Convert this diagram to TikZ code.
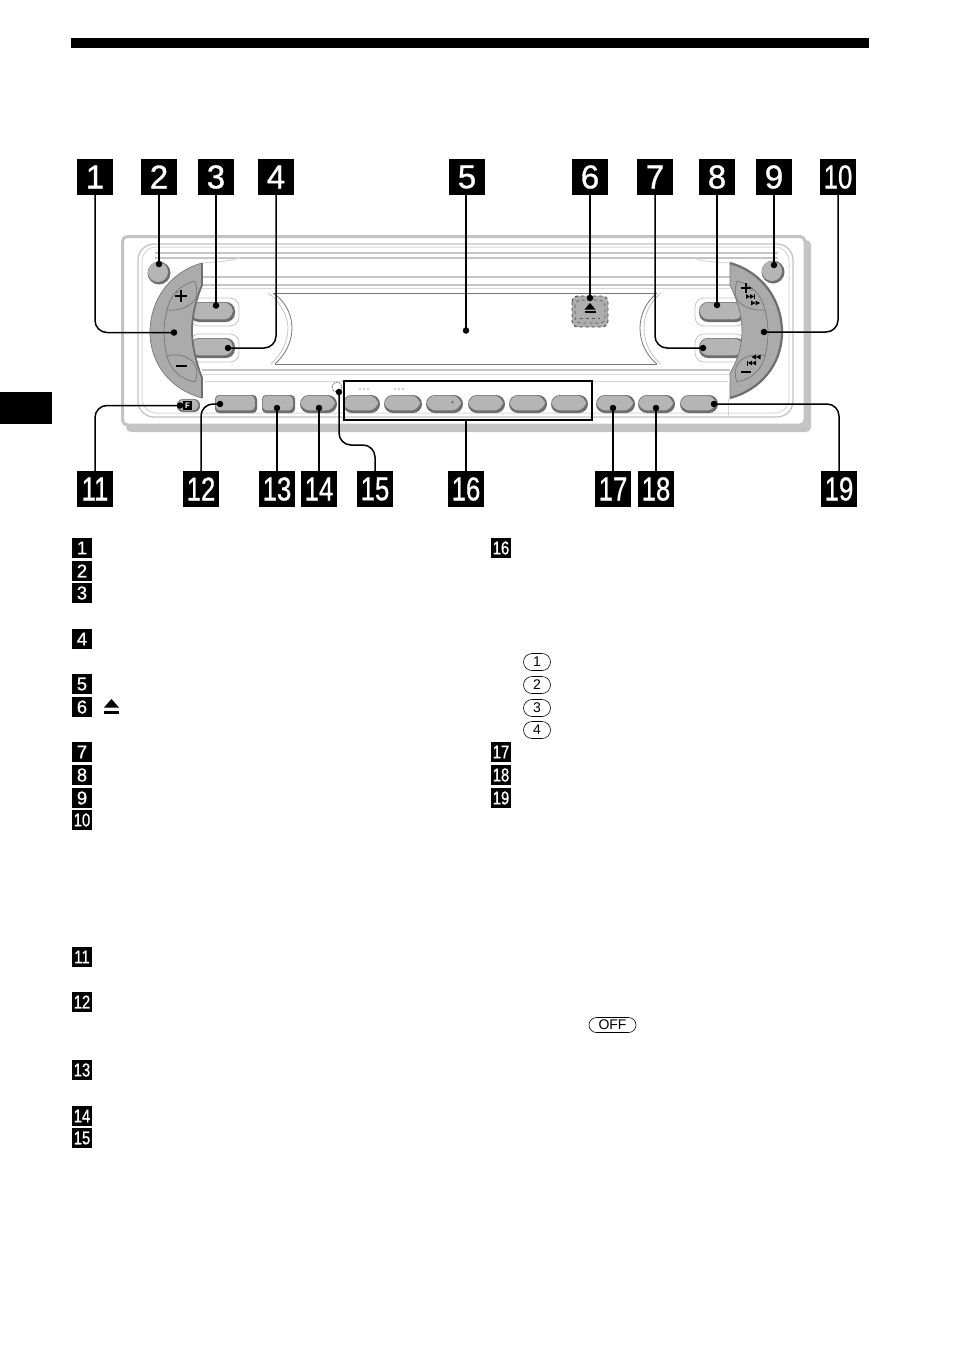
\documentclass[tikz,border=0pt]{standalone}
\usepackage{fontspec}
\usepackage{graphicx}
\setmainfont{Liberation Sans}
\newfontfamily\labfont[FakeBold=1]{Liberation Sans}
\usetikzlibrary{shapes.misc}
\definecolor{panel}{HTML}{ABABAB}
\definecolor{btnfill}{HTML}{B5B5B5}
\definecolor{btnedge}{HTML}{6E6E6E}
\definecolor{linea}{HTML}{C4C4C4}
\definecolor{lineb}{HTML}{D8D8D8}
\definecolor{lined}{HTML}{777777}
\tikzset{
  biglab/.style={fill=black,text=white,minimum size=36pt,inner sep=0pt,font=\labfont\fontsize{33}{33}\selectfont},
  smalllab/.style={fill=black,text=white,minimum size=20pt,inner sep=0pt,font=\labfont\fontsize{18.5}{18.5}\selectfont},
  pin/.style={circle,fill=black,minimum size=6.5pt,inner sep=0pt},
  lead/.style={draw=black,line width=1.5pt,rounded corners=12pt},
  pilllab/.style={draw=black,line width=.6pt,rounded rectangle,inner sep=0pt,minimum width=27pt,minimum height=17pt,font=\fontsize{14}{14}\selectfont},
  faint/.style={draw=linea,line width=1.3pt},
  faintthin/.style={draw=lineb,line width=1pt},
}
\newcommand{\btn}[5][9]{%
  \fill[btnedge,rounded corners=#1pt] (#2,#3) rectangle (#4,#5);
  \fill[btnfill,rounded corners=#1pt] (#2+.6,#3+.6) rectangle (#4-2.2,#5-2.6);
}
\newcommand{\rtri}[3]{\fill[black] (#1,#2-2.4) -- (#1+#3,#2) -- (#1,#2+2.4) -- cycle;}
\newcommand{\ltri}[3]{\fill[black] (#1,#2-2.4) -- (#1-#3,#2) -- (#1,#2+2.4) -- cycle;}
\begin{document}
\begin{tikzpicture}[x=1pt,y=-1pt]
\useasboundingbox (0,0) rectangle (954,1352);
% page furniture
\fill[black] (71,38) rectangle (869,48);
\fill[black] (0,392) rectangle (52,424);
% device body
\fill[linea,rounded corners=5pt] (126,240) rectangle (811,432);
\fill[white,rounded corners=4pt] (122.5,237) rectangle (805,425);
\draw[linea,line width=3pt,rounded corners=5pt] (122.5,236.5) rectangle (805,425);
\draw[faint,rounded corners=16pt] (138,244) rectangle (793,417);
\draw[faintthin,rounded corners=14pt] (142,247) rectangle (789,413);
\foreach \yy in {253,258}{\draw[faint] (155,\yy) -- (778,\yy);}
\draw[faintthin] (202,263) .. controls (215,262) and (225,262) .. (240,258);
\draw[faintthin] (730,263) .. controls (715,262) and (705,262) .. (693,258);
\draw[faint] (202,277) -- (730,277);
\draw[faint] (202,285) -- (730,285);
\draw[faintthin] (202,288) -- (730,288);
\draw[lined,line width=1pt] (273,293) -- (657,293);
\draw[lined,line width=1pt] (275,364) -- (657,364);
\draw[faint] (202,370) -- (730,370);
\draw[faintthin] (202,374) -- (730,374);
\draw[faintthin] (205,381) -- (345,381);
\draw[faintthin] (592,381) -- (728,381);
\draw[lineb,line width=.8pt] (728,398) -- (728,416);
% display arcs
\draw[lined,line width=.8pt] (273,293) .. controls (288,303) and (292,318) .. (292,328) .. controls (292,342) and (285,355) .. (275,364);
\draw[linea,line width=.8pt] (268,293) .. controls (282,303) and (288,318) .. (288,328) .. controls (288,342) and (281,355) .. (271,364);
\draw[lined,line width=.8pt] (657,293) .. controls (645,303) and (640,316) .. (640,328) .. controls (640,342) and (646,355) .. (657,364);
\draw[linea,line width=.8pt] (661,293) .. controls (649,303) and (644,316) .. (644,328) .. controls (644,342) and (650,355) .. (661,364);
% side button halos and buttons
\draw[linea,line width=.8pt,rounded corners=9pt] (190,298) rectangle (239,326);
\draw[linea,line width=.8pt,rounded corners=9pt] (190,334) rectangle (239,362);
\draw[linea,line width=.8pt,rounded corners=9pt] (695,298) rectangle (745,326);
\draw[linea,line width=.8pt,rounded corners=9pt] (695,334) rectangle (745,362);
\btn{190}{302}{235}{322}
\btn{190}{338}{235}{358}
\btn{699}{302}{745}{322}
\btn{699}{338}{745}{358}
% knobs
\fill[btnedge] (159,273) circle (11.5);
\fill[btnfill] (158,272) circle (10);
\fill[btnedge] (773,272) circle (11.5);
\fill[btnfill] (772,271) circle (10);
% left crescent
\fill[panel] (202,263) .. controls (170,272) and (150,300) .. (150,332) .. controls (150,365) and (172,390) .. (202,398) -- (202,378) .. controls (196,362) and (192,345) .. (192,331) .. controls (192,315) and (196,300) .. (202,285) -- cycle;
\draw[btnedge,line width=1.8pt] (202,263) -- (202,285) .. controls (196,300) and (192,315) .. (192,331) .. controls (192,345) and (196,362) .. (202,378) -- (202,398);
\draw[lined,line width=.7pt] (202,263) .. controls (170,272) and (150,300) .. (150,332) .. controls (150,365) and (172,390) .. (202,398);
\draw[lined,line width=.7pt] (167,310) .. controls (163,325) and (163,340) .. (167,356);
\draw[lined,line width=.7pt] (167,310) .. controls (170,295) and (180,285) .. (195,281) .. controls (198,290) and (197,298) .. (193,302) .. controls (187,308) and (177,311) .. (167,310);
\draw[lined,line width=.7pt] (167,356) .. controls (170,369) and (180,379) .. (195,382) .. controls (198,374) and (197,366) .. (193,362) .. controls (187,356) and (177,353) .. (167,356);
% right crescent
\fill[panel] (730,263) .. controls (762,272) and (782,300) .. (782,332) .. controls (782,365) and (760,390) .. (730,398) -- (730,373) .. controls (738,360) and (742,345) .. (742,330) .. controls (742,315) and (737,300) .. (730,285) -- cycle;
\draw[btnedge,line width=2.2pt] (730,263) .. controls (762,272) and (782,300) .. (782,332) .. controls (782,365) and (760,390) .. (730,398);
\draw[lined,line width=.7pt] (730,263) -- (730,285) .. controls (737,300) and (742,315) .. (742,330) .. controls (742,345) and (738,360) .. (730,373) -- (730,398);
\draw[lined,line width=.7pt] (765,310) .. controls (769,325) and (769,340) .. (765,356);
\draw[lined,line width=.7pt] (765,310) .. controls (762,295) and (752,285) .. (737,281) .. controls (734,290) and (735,298) .. (739,302) .. controls (745,308) and (755,311) .. (765,310);
\draw[lined,line width=.7pt] (765,356) .. controls (762,369) and (752,379) .. (737,382) .. controls (734,374) and (735,366) .. (739,362) .. controls (745,356) and (755,353) .. (765,356);
% crescent symbols
\draw[black,line width=1.9pt] (175,296) -- (187,296) (181,290) -- (181,302);
\draw[lined,line width=.5pt] (177,292) circle (1.2);
\draw[black,line width=1.9pt] (176,366) -- (187,366);
\draw[black,line width=1.9pt] (741,288) -- (751,288) (746,283) -- (746,293);
\draw[lined,line width=.5pt] (752,289) circle (1.2);
\rtri{746}{296.5}{4}\rtri{750}{296.5}{4}\fill[black] (754,294) rectangle (755,299);
\rtri{751}{303}{4.5}\rtri{755.5}{303}{4.5}
\ltri{756}{357}{4.5}\ltri{760.5}{357}{4.5}
\ltri{752}{363}{4}\ltri{756}{363}{4}\fill[black] (747,361) rectangle (748,366);
\draw[black,line width=1.9pt] (741,372) -- (751,372);
% bottom row
\btn[4]{215}{395}{257}{413}
\btn[4]{262}{395}{295}{413}
\btn{300}{395}{337}{413}
\btn{343}{395}{380}{413}
\btn{384}{395}{422}{413}
\btn{426}{395}{463}{413}
\btn{468}{395}{505}{413}
\btn{509}{395}{547}{413}
\btn{551}{395}{588}{413}
\btn{596}{395}{635}{413}
\btn{638}{395}{675}{413}
\btn{680}{395}{718}{413}
\fill[lined] (452.5,402) circle (1.5);
\foreach \xx in {360,364,368,395,399,403}{\fill[black!80] (\xx,389) circle (.55);}
\draw[black!75,line width=.8pt,densely dotted] (337,387) circle (5);
% small F button
\fill[btnedge,rounded corners=6pt] (177,399) rectangle (200,412);
\fill[btnfill,rounded corners=6pt] (177.5,399.5) rectangle (198.5,410.5);
\node[fill=black,text=white,minimum size=9pt,inner sep=0pt,font=\fontsize{8}{8}\selectfont\bfseries] (fkey) at (187.5,405.5) {F};
% eject button
\fill[lineb!80!black,rounded corners=6pt] (572,296) rectangle (608,327);
\draw[black!75,line width=.9pt,dashed,rounded corners=6pt] (572,296) rectangle (608,327);
\draw[black!65,line width=.6pt,dashed,rounded corners=5pt] (575,300) rectangle (605,323);
\draw[black!65,line width=.6pt,dashed] (580,318) -- (600,318);
\fill[black] (590,303) -- (595.5,309.5) -- (584.5,309.5) -- cycle;
\fill[black] (584.5,311) rectangle (595.5,313);
% group frame
\node[draw=black,line width=1.5pt,inner sep=0pt,minimum width=248pt,minimum height=39pt] (frame) at (468,400.5) {};
% top call-outs
\node[biglab] (l1) at (95,177) {1};
\node[biglab] (l2) at (159,177) {2};
\node[biglab] (l3) at (216,177) {3};
\node[biglab] (l4) at (276,177) {4};
\node[biglab] (l5) at (467,177) {5};
\node[biglab] (l6) at (590,177) {6};
\node[biglab] (l7) at (655,177) {7};
\node[biglab] (l8) at (717,177) {8};
\node[biglab] (l9) at (774,177) {9};
\node[biglab] (l10) at (838,177) {\scalebox{.78}[1]{10}};
\node[biglab] (l11) at (95,489) {\scalebox{.78}[1]{11}};
\node[biglab] (l12) at (201,489) {\scalebox{.78}[1]{12}};
\node[biglab] (l13) at (277,489) {\scalebox{.78}[1]{13}};
\node[biglab] (l14) at (319,489) {\scalebox{.78}[1]{14}};
\node[biglab] (l15) at (375,489) {\scalebox{.78}[1]{15}};
\node[biglab] (l16) at (466,489) {\scalebox{.78}[1]{16}};
\node[biglab] (l17) at (613,489) {\scalebox{.78}[1]{17}};
\node[biglab] (l18) at (656,489) {\scalebox{.78}[1]{18}};
\node[biglab] (l19) at (839,489) {\scalebox{.78}[1]{19}};
% pins
\node[pin] (d1) at (174,332.5) {};
\node[pin] (d2) at (159,264) {};
\node[pin] (d3) at (216,305.5) {};
\node[pin] (d4) at (228,348) {};
\node[pin] (d5) at (466,330.5) {};
\node[pin] (d6) at (590,298) {};
\node[pin] (d7) at (703,348) {};
\node[pin] (d8) at (717,305) {};
\node[pin] (d9) at (774,265) {};
\node[pin] (d10) at (764,332) {};
\node[pin] (d11) at (180,405.5) {};
\node[pin] (d12) at (220,404) {};
\node[pin] (d13) at (277,408) {};
\node[pin] (d14) at (319,408) {};
\node[pin] (d15) at (339,392) {};
\node[pin] (d17) at (613,408) {};
\node[pin] (d18) at (656,408) {};
\node[pin] (d19) at (714,404) {};
\coordinate (c15) at (339,445);
% leads
\draw[lead] (l1.south) |- (d1.center);
\draw[lead] (l2.south) -- (d2.center);
\draw[lead] (l3.south) -- (d3.center);
\draw[lead] (l4.south) |- (d4.center);
\draw[lead] (l5.south -| d5) -- (d5.center);
\draw[lead] (l6.south) -- (d6.center);
\draw[lead] (l7.south) |- (d7.center);
\draw[lead] (l8.south) -- (d8.center);
\draw[lead] (l9.south) -- (d9.center);
\draw[lead] (l10.south) |- (d10.center);
\draw[lead] (l11.north) |- (d11.center);
\draw[lead] (l12.north) |- (d12.center);
\draw[lead] (l13.north) -- (d13.center);
\draw[lead] (l14.north) -- (d14.center);
\draw[lead] (l15.north) |- (c15) -- (d15.center);
\draw[lead] (l16.north) -- (l16.north |- frame.south);
\draw[lead] (l17.north) -- (d17.center);
\draw[lead] (l18.north) -- (d18.center);
\draw[lead] (l19.north) |- (d19.center);
% list keys, left column
\node[smalllab] (k1) at (82,548) {1};
\node[smalllab] (k2) at (82,571) {2};
\node[smalllab] (k3) at (82,593) {3};
\node[smalllab] (k4) at (82,639) {4};
\node[smalllab] (k5) at (82,684) {5};
\node[smalllab] (k6) at (82,707) {6};
\node[smalllab] (k7) at (82,752) {7};
\node[smalllab] (k8) at (82,775) {8};
\node[smalllab] (k9) at (82,798) {9};
\node[smalllab] (k10) at (82,820) {\scalebox{.8}[1]{10}};
\node[smalllab] (k11) at (82,957) {\scalebox{.8}[1]{11}};
\node[smalllab] (k12) at (82,1002) {\scalebox{.8}[1]{12}};
\node[smalllab] (k13) at (82,1070) {\scalebox{.8}[1]{13}};
\node[smalllab] (k14) at (82,1116) {\scalebox{.8}[1]{14}};
\node[smalllab] (k15) at (82,1138) {\scalebox{.8}[1]{15}};
% list keys, right column
\node[smalllab] (k16) at (501,548) {\scalebox{.8}[1]{16}};
\node[smalllab] (k17) at (501,752) {\scalebox{.8}[1]{17}};
\node[smalllab] (k18) at (501,775) {\scalebox{.8}[1]{18}};
\node[smalllab] (k19) at (501,798) {\scalebox{.8}[1]{19}};
% eject symbol in the list
\fill[black] (111.5,699) -- (119,707.5) -- (104,707.5) -- cycle;
\fill[black] (104,710.5) rectangle (119,714);
% pill keys
\node[pilllab] (p1) at (537,662) {1};
\node[pilllab] (p2) at (537,685) {2};
\node[pilllab] (p3) at (537,708) {3};
\node[pilllab] (p4) at (537,730) {4};
\node[pilllab,minimum width=47pt,minimum height=15pt] (off) at (612.5,1025) {OFF};
\end{tikzpicture}
\end{document}
